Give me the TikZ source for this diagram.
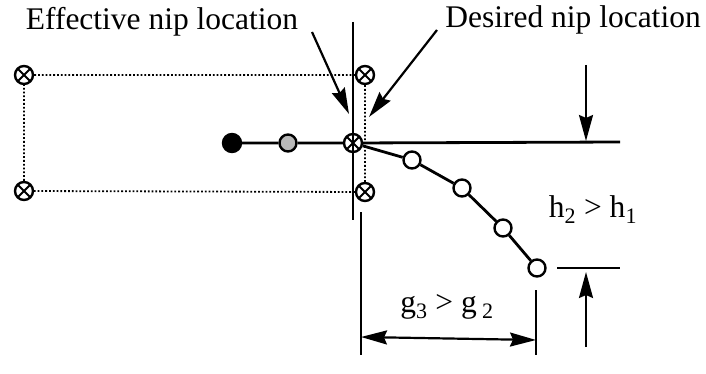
\documentclass[tikz,border=0pt]{standalone}
\usepackage{fontspec}
\setmainfont{Liberation Serif}
\usetikzlibrary{arrows.meta,positioning,calc}
\tikzset{
  lbl/.style    ={font=\fontsize{31.5}{36}\selectfont, inner sep=0pt},
  rollx/.style  ={circle, draw, line width=2.4pt, minimum size=18pt, inner sep=0pt,
                  path picture={\draw[line width=1.8pt]
                    (path picture bounding box.north west)--(path picture bounding box.south east)
                    (path picture bounding box.north east)--(path picture bounding box.south west);}},
  rollo/.style  ={circle, draw, line width=2.4pt, minimum size=17pt, inner sep=0pt, fill=white},
  rollg/.style  ={rollo, fill=gray!55},
  rollb/.style  ={rollo, fill=black, minimum size=18pt},
  web/.style    ={line width=2.8pt},
  frame/.style  ={line width=1.8pt, dotted},
  guide/.style  ={line width=2.2pt},
  arr/.style    ={-{Stealth[length=26pt,width=14pt,inset=3pt]}, line width=2.2pt},
  darr/.style   ={{Stealth[length=26pt,width=14pt,inset=3pt]}-{Stealth[length=26pt,width=14pt,inset=3pt]}, line width=2.2pt},
}

\begin{document}
\begin{tikzpicture}[x=1pt,y=-1pt]
  \useasboundingbox (0,0) rectangle (706,374);
  % dotted roll frame
  \node[rollx] (tl) at (24,75) {};
  \node[rollx] (bl) at (24,191) {};
  \node[rollx] (tr) at (365,75) {};
  \node[rollx] (br) at (365,192) {};
  \draw[frame] (tl)--(tr) (tr)--(br) (br)--(bl) (bl)--(tl);
  % nip line
  \coordinate (vtop) at (353,22);
  \coordinate (vbot) at (353,220);
  \draw[guide] (vtop)--(vbot);
  % web path
  \node[rollb] (r0) at (232,143) {};
  \node[rollg] (r1) at (288,143) {};
  \node[rollx] (nip) at (353,143) {};
  \node[rollo] (c1) at (412,160) {};
  \node[rollo] (c2) at (462,188) {};
  \node[rollo] (c3) at (503,228) {};
  \node[rollo] (c4) at (537,268) {};
  \coordinate (hend) at (620,142);
  \draw[web] (r0)--(r1) (r1)--(nip) (nip)--(hend);
  \draw[web] (nip)--(c1) (c1)--(c2) (c2)--(c3) (c3)--(c4);
  % labels and pointers
  \node[lbl] (eff) at (162,22) {Effective nip location};
  \node[lbl] (des) at (573,20) {Desired nip location};
  \coordinate (effs) at (312,32);
  \coordinate (efft) at (349,114);
  \coordinate (dess) at (437,30);
  \coordinate (dest) at (369,117);
  \draw[arr] (effs)--(efft);
  \draw[arr] (dess)--(dest);
  % height dimension
  \coordinate (hs) at (586,65);
  \coordinate (ht) at (586,141);
  \coordinate (ts) at (557,268);
  \coordinate (te) at (620,268);
  \coordinate (us) at (586,347);
  \coordinate (ut) at (586,272);
  \draw[arr] (hs)--(ht);
  \draw[guide] (ts)--(te);
  \draw[arr] (us)--(ut);
  \node[lbl] (hlab) at (593,210) {h\textsubscript{2} > h\textsubscript{1}};
  % gap dimension
  \coordinate (ga) at (361,212);
  \coordinate (gb) at (361,355);
  \coordinate (gc) at (536,290);
  \coordinate (gd) at (536,355);
  \draw[guide] (ga)--(gb) (gc)--(gd);
  \draw[darr] ($(ga)!0.8741!(gb)$)--($(gc)!0.7692!(gd)$);
  \node[lbl] (glab) at (447,307) {g\textsubscript{3} > g\,\textsubscript{2}};
\end{tikzpicture}
\end{document}
